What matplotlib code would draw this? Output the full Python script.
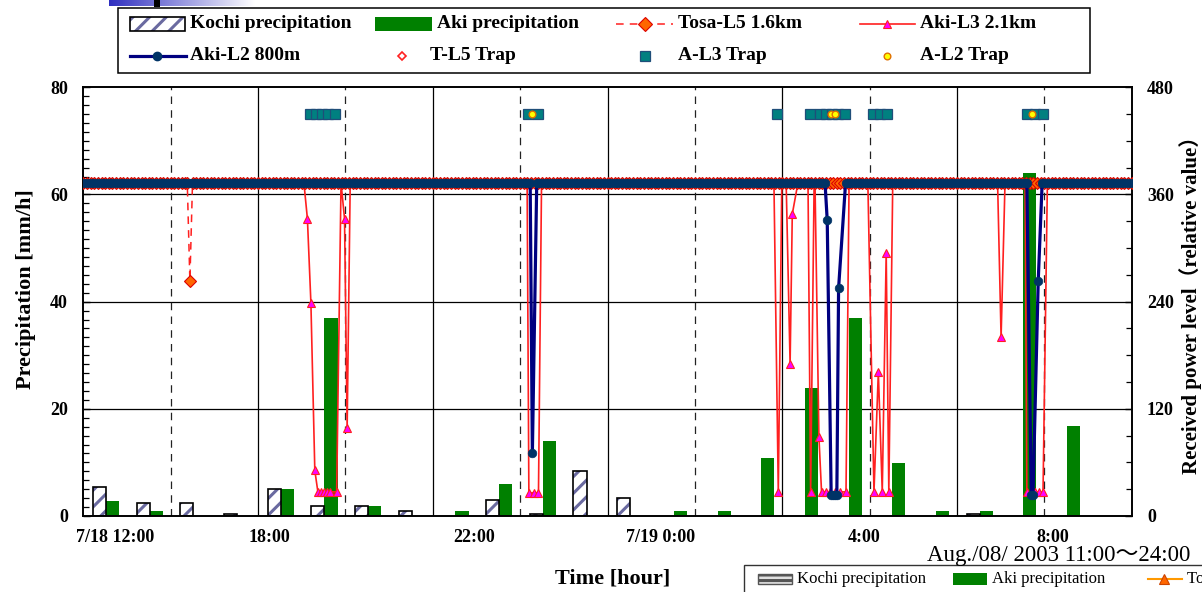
import numpy as np
import matplotlib
matplotlib.use("Agg")
import matplotlib.pyplot as plt
from matplotlib.patches import Rectangle
from matplotlib.lines import Line2D
from matplotlib.ticker import MultipleLocator
from matplotlib.colors import LinearSegmentedColormap

plt.rcParams['font.family'] = ['Liberation Serif', 'Noto Sans CJK JP']
plt.rcParams['hatch.linewidth'] = 2.2

# ---------------- data ----------------
hour_slots = list(range(24))          # hourly precipitation slots from 7/18 12:00
kochi_precip = [5.5, 2.4, 2.4, 0.45, 5.1, 1.9, 1.9, 1.0, 0, 2.9, 0.45, 8.4,
                3.3, 0, 0, 0, 0, 0, 0, 0, 0.45, 0, 0, 0]
aki_precip = [2.8, 1.0, 0, 0, 5.0, 37, 1.8, 0, 1.0, 6.0, 14.0, 0,
              0, 1.0, 1.0, 10.8, 23.9, 37, 9.9, 1.0, 1.0, 64, 16.8, 0]

xtick_hours = [0.72, 4.26, 8.94, 13.21, 17.87, 22.20]
xtick_labels = ["7/18 12:00", "18:00", "22:00", "7/19 0:00", "4:00", "8:00"]

power_normal_level = 373      # received level (relative) in normal state
sample_step_h = 5 / 60        # 5-minute records

tosa_l5_dips = [
    ([2.38, 2.44, 2.50], [373, 263, 373]),
]
aki_l3_dips = [
    ([5.05, 5.13, 5.21, 5.30, 5.37, 5.44, 5.51, 5.58, 5.65, 5.80, 5.90, 5.98, 6.04, 6.11],
     [373, 333, 239, 51, 27, 27, 27, 27, 27, 27, 373, 333, 99, 373]),
    ([10.16, 10.20, 10.32, 10.42, 10.49], [373, 26, 26, 26, 373]),
    ([15.81, 15.91, 15.99], [373, 27, 373]),
    ([16.09, 16.18, 16.23, 16.36], [373, 170, 338, 373]),
    ([16.59, 16.65, 16.73], [373, 27, 373]),
    ([16.75, 16.84, 16.90, 17.00, 17.09, 17.21, 17.32, 17.46, 17.53],
     [373, 88, 27, 27, 27, 27, 27, 27, 373]),
    ([17.96, 18.10, 18.20, 18.29, 18.38, 18.44, 18.53],
     [373, 27, 161, 27, 295, 27, 373]),
    ([20.93, 21.01, 21.10], [373, 200, 373]),
    ([21.56, 21.60, 21.69, 21.79, 21.88, 21.97, 22.07],
     [373, 27, 27, 27, 27, 27, 373]),
]
aki_l2_dips = [
    ([10.23, 10.28, 10.38], [373, 70, 373]),
    ([16.98, 17.03, 17.12, 17.16, 17.21, 17.25, 17.29, 17.45],
     [373, 331, 24, 24, 24, 24, 255, 373]),
    ([21.60, 21.70, 21.74, 21.86, 21.95], [373, 24, 24, 263, 373]),
]

trap_level = 450
al3_trap_hours = [5.19, 5.33, 5.47, 5.60, 5.76, 10.18, 10.41, 15.88, 16.64,
                  16.87, 17.00, 17.14, 17.28, 17.44, 18.08, 18.24, 18.40,
                  21.60, 21.79, 21.97]
al2_trap_hours = [10.27, 17.11, 17.21, 21.72]


def build_series(dips):
    base_t = np.arange(0, 24 + 1e-9, sample_step_h)
    keep = np.ones(len(base_t), bool)
    ts, vs = [], []
    for t, v in dips:
        keep &= ~((base_t >= t[0] - 1e-9) & (base_t <= t[-1] + 1e-9))
        ts += list(t)
        vs += list(v)
    t_all = np.concatenate([base_t[keep], ts])
    v_all = np.concatenate([np.full(int(keep.sum()), power_normal_level), vs])
    order = np.argsort(t_all, kind="stable")
    return t_all[order], v_all[order]


# ---------------- figure ----------------
W, H = 1202, 592
fig = plt.figure(figsize=(W / 100, H / 100), dpi=100)
ax = fig.add_axes([83.3 / W, 1 - 516 / H, (1131.7 - 83.3) / W, (516 - 87.3) / H])
ax.set_xlim(0, 24)
ax.set_ylim(0, 80)

# grid
for yv in [20, 40, 60]:
    ax.axhline(yv, color='black', lw=0.9, zorder=0.5)
for xv in [4, 8, 12, 16, 20]:
    ax.axvline(xv, color='black', lw=0.9, zorder=0.5)
for xv in [2, 6, 10, 14, 18, 22]:
    ax.axvline(xv, color='#222222', lw=0.9, ls=(0, (6, 5)), zorder=0.5)

# bars
hs = np.array(hour_slots)
kp = np.array(kochi_precip, float)
ap = np.array(aki_precip, float)
km = kp > 0
am = ap > 0
ax.bar(hs[km] + 0.37, kp[km], width=0.30, facecolor='white', edgecolor='#6a6aa0',
       hatch='//', linewidth=0, zorder=2)
ax.bar(hs[km] + 0.37, kp[km], width=0.30, facecolor='none', edgecolor='black',
       linewidth=1.2, zorder=2.1)
ax.bar(hs[am] + 0.67, ap[am], width=0.30, facecolor='#008000', edgecolor='none',
       zorder=2)

# right axis
ax2 = ax.twinx()
ax2.set_ylim(0, 480)
ax2.set_xlim(0, 24)

t3, v3 = build_series(aki_l3_dips)
ax2.plot(t3, v3, color='#ff2020', lw=1.2, marker='^', ms=6, mfc='#ff00ff',
         mec='#ff2020', mew=0.8, zorder=3)
t5, v5 = build_series(tosa_l5_dips)
ax2.plot(t5, v5, color='#ff2020', lw=1.1, ls=(0, (5, 4)), marker='D', ms=6.6,
         mfc='#ff6600', mec='#dd0000', mew=0.8, zorder=4)
t2, v2 = build_series(aki_l2_dips)
ax2.plot(t2, v2, color='#000080', lw=2.3, marker='o', ms=6.2, mfc='#003366',
         mec='#003366', mew=0.5, zorder=5)

ax2.plot(al3_trap_hours, [trap_level] * len(al3_trap_hours), ls='none', marker='s',
         ms=6.8, mfc='#008080', mec='#1f4e79', mew=0.9, zorder=6)
ax2.plot(al2_trap_hours, [trap_level] * len(al2_trap_hours), ls='none', marker='o',
         ms=4.8, mfc='#ffff00', mec='#e07000', mew=1.0, zorder=7)

# ticks
tick_font = dict(fontsize=13, fontweight='bold')
ax.set_yticks([0, 20, 40, 60, 80])
ax.set_yticklabels(['0', '20', '40', '60', '80'], **tick_font)
ax.yaxis.set_minor_locator(MultipleLocator(20 / 12))
ax.tick_params(axis='y', which='major', direction='in', length=5, width=1, pad=11)
ax.tick_params(axis='y', which='minor', direction='in', length=4, width=0.9)
ax.set_xticks(xtick_hours)
ax.set_xticklabels(xtick_labels, **tick_font)
ax.tick_params(axis='x', length=0, pad=9)

ax2.set_yticks([0, 120, 240, 360, 480])
ax2.set_yticklabels(['0', '120', '240', '360', '480'], **tick_font)
ax2.yaxis.set_minor_locator(MultipleLocator(30))
ax2.tick_params(axis='y', which='major', direction='in', length=5, width=1, pad=11)
ax2.tick_params(axis='y', which='minor', direction='in', length=4, width=0.9)

for a in (ax, ax2):
    for s in a.spines.values():
        s.set_linewidth(1.2)
        s.set_color('black')

# axis labels
fig.text(26 / W, 1 - 289 / H, "Precipitation [mm/h]", rotation=90, ha='center',
         va='center', fontsize=16, fontweight='bold')
fig.text(613 / W, 1 - 578 / H, "Time [hour]", ha='center', va='center',
         fontsize=16, fontweight='bold')
fig.text(1191 / W, 1 - 300 / H, "Received power level（relative value）", rotation=90,
         ha='center', va='center', fontsize=15, fontweight='bold')

# ---------------- overlay (legends, slide artifacts) ----------------
ov = fig.add_axes([0, 0, 1, 1], zorder=10)
ov.set_xlim(0, W)
ov.set_ylim(H, 0)
ov.axis('off')
ov.patch.set_alpha(0)

# top legend
ov.add_patch(Rectangle((118, 8), 972, 65, facecolor='white', edgecolor='black', lw=1.1))
lf = dict(fontsize=14, fontweight='bold', va='center', ha='left')
r1, r2 = 24, 56
ov.add_patch(Rectangle((130, r1 - 7), 55, 14, facecolor='white', edgecolor='#6a6aa0',
                       hatch='//', lw=0))
ov.add_patch(Rectangle((130, r1 - 7), 55, 14, facecolor='none', edgecolor='black', lw=1.2))
ov.text(190, r1, "Kochi precipitation", **lf)
ov.add_patch(Rectangle((375, r1 - 7), 57, 14, facecolor='#008000', edgecolor='none'))
ov.text(437, r1, "Aki precipitation", **lf)
ov.add_line(Line2D([616, 673], [r1, r1], color='#ff2020', lw=1.1, ls=(0, (5, 4))))
ov.plot([645], [r1], marker='D', ms=7, mfc='#ff6600', mec='#dd0000', mew=0.8)
ov.text(678, r1, "Tosa-L5 1.6km", **lf)
ov.add_line(Line2D([860, 915], [r1, r1], color='#ff2020', lw=1.2))
ov.plot([887], [r1], marker='^', ms=6, mfc='#ff00ff', mec='#ff2020', mew=0.8)
ov.text(920, r1, "Aki-L3 2.1km", **lf)

ov.add_line(Line2D([130, 186], [r2, r2], color='#000080', lw=2.3))
ov.plot([157], [r2], marker='o', ms=6, mfc='#003366', mec='#003366')
ov.text(190, r2, "Aki-L2 800m", **lf)
ov.plot([402], [r2], marker='D', ms=4, mfc='white', mec='#ff2020', mew=1.2)
ov.text(430, r2, "T-L5 Trap", **lf)
ov.plot([645], [r2], marker='s', ms=6.8, mfc='#008080', mec='#1f4e79', mew=0.9)
ov.text(678, r2, "A-L3 Trap", **lf)
ov.plot([887], [r2], marker='o', ms=4.8, mfc='#ffff00', mec='#e07000', mew=1.0)
ov.text(920, r2, "A-L2 Trap", **lf)

# slide artifacts at the top-left
grad = np.linspace(0, 1, 256)[None, :]
cm = LinearSegmentedColormap.from_list('bl', ['#2f2fc0', '#ffffff'])
ov.imshow(grad, cmap=cm, extent=(109, 255, 6, 0), aspect='auto', zorder=1)
ov.add_patch(Rectangle((154, 0), 6, 7, facecolor='black', edgecolor='none', zorder=2))
ov.set_xlim(0, W)
ov.set_ylim(H, 0)

# date text and lower (cut) legend from the slide
ov.text(927, 555, "Aug./08/ 2003 11:00～24:00", fontsize=16.5, ha='left', va='center')
ov.add_patch(Rectangle((744, 565), 500, 40, facecolor='white', edgecolor='#333333', lw=1.0))
bf = dict(fontsize=12, va='center', ha='left')
ov.add_patch(Rectangle((758, 574), 34, 10, facecolor='#e0e0e0', edgecolor='#555555',
                       hatch='---', lw=1.0))
ov.text(797, 579, "Kochi precipitation", **bf)
ov.add_patch(Rectangle((953, 573), 34, 12, facecolor='#008000', edgecolor='none'))
ov.text(992, 579, "Aki precipitation", **bf)
ov.add_line(Line2D([1148, 1182], [579, 579], color='#ff9900', lw=1.5))
ov.plot([1164], [579], marker='^', ms=7, mfc='#ff6600', mec='#cc4400', mew=0.8)
ov.text(1187, 579, "Tosa-L5 1.6km", **bf)

fig.savefig("out.png", dpi=100)
